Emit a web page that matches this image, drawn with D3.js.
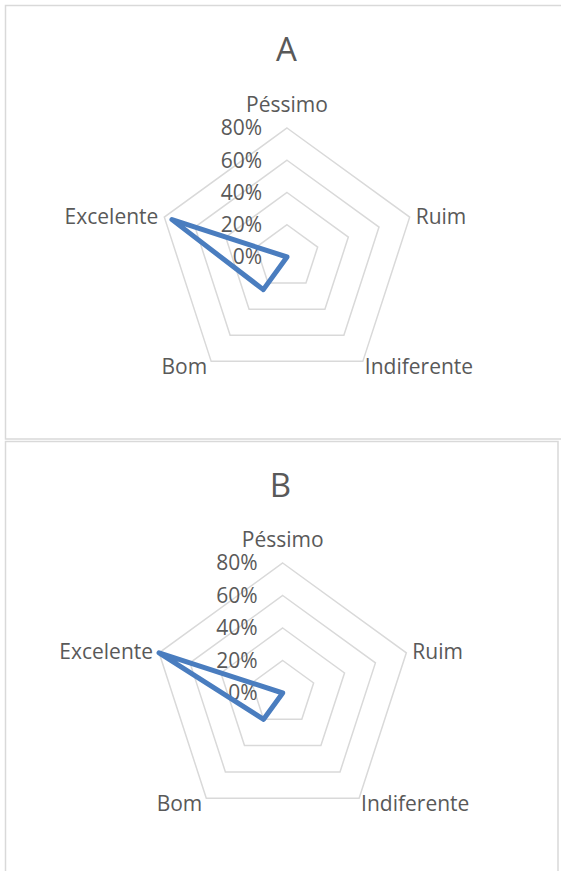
<!DOCTYPE html>
<html><head><meta charset="utf-8">
<script src="https://cdn.jsdelivr.net/npm/d3@7"></script>
<style>body{margin:0;background:#fff}svg{display:block}</style>
</head><body>
<svg id="c" width="561" height="871"></svg>
<script>
const categories = ["Péssimo","Ruim","Indiferente","Bom","Excelente"];
const seriesA = [0, 0, 0, 0.25, 0.75];
const seriesB = [0, 0, 0, 0.20, 0.80];
const tickValues = [0, 0.2, 0.4, 0.6, 0.8];
const titles = ["A","B"];

const svg = d3.select("#c");
const font = "'Open Sans', sans-serif";
const textCol = "#595959";
const gridCol = "#d9d9d9";
const lineCol = "#4a7dbf";
const fs = 21;

const panels = [
  {title: titles[0], data: seriesA, x: 5.5, y: 5.5, w: 570, h: 433.5, cx: 287, cy: 257, R: 129, titleX: 286.5, titleY: 60.5},
  {title: titles[1], data: seriesB, x: 5.5, y: 441.5, w: 552.5, h: 440, cx: 282.7, cy: 693, R: 130, titleX: 280.5, titleY: 496.5}
];

const angle = d3.scalePoint().domain(categories).range([0, 2*Math.PI*(categories.length-1)/categories.length]);

panels.forEach(p => {
  svg.append("rect").attr("x", p.x).attr("y", p.y).attr("width", p.w).attr("height", p.h)
    .attr("fill", "#fff").attr("stroke", gridCol).attr("stroke-width", 1.5);
  const r = d3.scaleLinear().domain([0, 0.8]).range([0, p.R]);
  const g = svg.append("g").attr("transform", `translate(${p.cx},${p.cy})`);

  const ringLine = d3.lineRadial().curve(d3.curveLinearClosed);
  tickValues.filter(t => t > 0).forEach(t => {
    g.append("path")
      .attr("d", ringLine(categories.map(c => [angle(c), r(t)])))
      .attr("fill", "none").attr("stroke", gridCol).attr("stroke-width", 1.5);
  });

  g.selectAll("text.tick").data(tickValues).join("text")
    .attr("x", -25).attr("y", d => -r(d)).attr("dy", "0.35em")
    .attr("text-anchor", "end").attr("font-family", font).attr("font-size", fs)
    .attr("fill", textCol).text(d => d3.format(".0%")(d));

  g.append("path")
    .attr("d", ringLine(categories.map((c, i) => [angle(c), r(p.data[i])])))
    .attr("fill", "none").attr("stroke", lineCol).attr("stroke-width", 5)
    .attr("stroke-linejoin", "round");

  categories.forEach(c => {
    const a = angle(c);
    const rr = r(0.8);
    const vx = rr * Math.sin(a), vy = -rr * Math.cos(a);
    let x = vx, y = vy, anchor = "middle", dy = "0.35em";
    if (Math.abs(vx) < 1) { y = vy - 16; anchor = "middle"; dy = "0"; }
    else if (vy < 0) { x = vx + (vx > 0 ? 6 : -6); anchor = vx > 0 ? "start" : "end"; y = vy - 1; }
    else { x = vx + (vx > 0 ? 2 : -4); anchor = vx > 0 ? "start" : "end"; y = vy; dy = "0.6em"; }
    g.append("text").attr("x", x).attr("y", y).attr("dy", dy)
      .attr("text-anchor", anchor).attr("font-family", font).attr("font-size", fs)
      .attr("fill", textCol).text(c);
  });

  svg.append("text").attr("x", p.titleX).attr("y", p.titleY)
    .attr("text-anchor", "middle").attr("font-family", font).attr("font-size", 33)
    .attr("fill", textCol).text(p.title);
});
</script>
</body></html>
